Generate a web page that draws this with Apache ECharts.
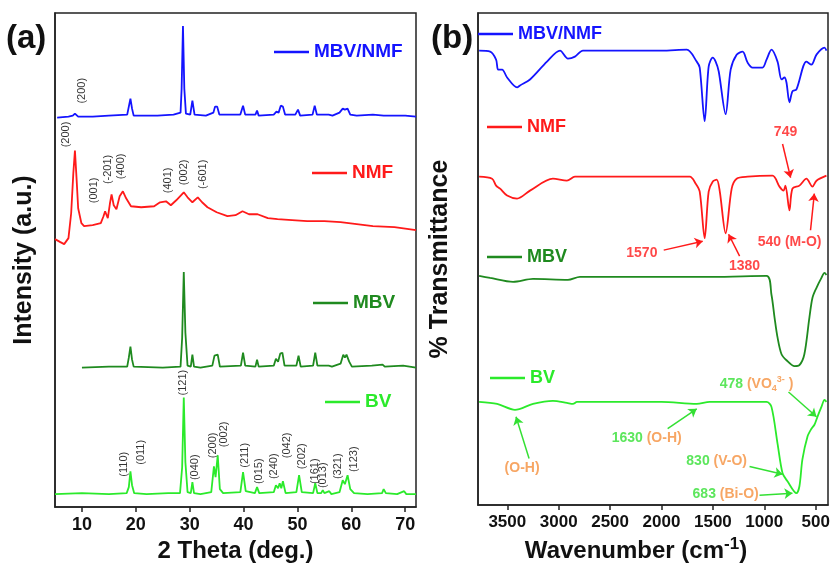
<!DOCTYPE html>
<html>
<head>
<meta charset="utf-8">
<title>XRD / FTIR</title>
<script src="https://cdn.jsdelivr.net/npm/echarts@6.0.0/dist/echarts.min.js"></script>
<style>
  html, body { margin: 0; padding: 0; background: #fff; }
  #main { width: 834px; height: 568px; }
</style>
</head>
<body>
<div id="main"></div>
<script>
// ---- (a) XRD patterns: [2theta, intensity (a.u., stacked offsets)] ----
const xrdComposite = [[5.4,391],[7.5,392],[8.3,393],[8.7,395],[9.3,392],[12,392],[15,393],[18.4,394],[18.7,402],[19.0,410],[19.3,400],[19.6,393],[24,393],[27,394],[28.3,396],[28.5,420],[28.75,483],[29.0,420],[29.3,395],[30.1,394],[30.5,408],[30.9,394],[33,393],[34.4,396],[34.7,402],[35.1,402],[35.5,394],[39.4,394],[39.9,403],[40.3,394],[42.2,394],[42.5,398],[42.8,393],[45.6,394],[46.1,397],[46.5,396],[46.9,403],[47.3,402],[47.7,394],[49.6,394],[50.1,399],[50.5,393],[52.8,394],[53.2,403],[53.6,394],[55.8,394],[56.1,395],[56.5,393],[57.8,396],[58.4,400],[58.8,399],[59.3,400],[59.8,394],[61,393],[64,394],[66,393],[70,393],[72,392]];
const xrdNmf = [[5,269],[6,266],[6.7,264],[7.5,270],[8.0,295],[8.4,335],[8.7,358],[9.0,330],[9.3,300],[9.6,298],[9.9,285],[10.4,282],[12,283],[13.5,285],[14.0,292],[14.3,297],[14.8,290],[15.2,305],[15.5,314],[15.9,303],[16.4,299],[17.0,312],[17.6,317],[18.2,310],[19.1,302],[21,301],[23.4,302],[24.5,306],[25.6,307],[26.5,303],[27.5,308],[28.9,316],[29.6,311],[30.5,306],[31.5,311],[32.3,306],[33.3,301],[35,296],[37,292],[38.5,293],[39.8,297],[41,294],[42.6,294],[44.5,290],[46.3,289],[49,288],[51.8,287],[55,287],[58,286],[61,284],[64,282],[68,281],[72,278]];
const xrdMbv = [[10,140],[15,141],[18.4,141],[18.7,150],[19.0,161],[19.3,148],[19.6,141],[25,140],[28.3,141],[28.6,170],[28.9,236],[29.2,175],[29.6,142],[30.2,141],[30.5,153],[30.8,141],[32,140],[34.2,142],[34.6,152],[34.9,150],[35.2,153],[35.6,141],[39.5,142],[39.9,155],[40.3,142],[42.2,141],[42.5,148],[42.8,141],[45.6,142],[46.0,149],[46.4,146],[46.8,154],[47.2,155],[47.6,142],[49.8,142],[50.2,152],[50.6,141],[52.9,142],[53.3,155],[53.7,142],[55.8,142],[56.1,144],[56.4,141],[58.0,144],[58.5,153],[58.8,150],[59.1,153],[59.6,146],[60.1,141],[63.8,142],[65.8,143],[66.2,141],[69.6,142],[72,140]];
const xrdBv = [[5,13],[10,14],[15,13],[18.3,14],[18.7,20],[19.0,36],[19.3,22],[19.7,14],[22,13],[26,14],[28.2,14],[28.6,40],[28.9,110],[29.2,45],[29.6,15],[30.2,14],[30.5,25],[30.8,14],[32,13],[34.0,15],[34.5,41],[34.8,30],[35.2,52],[35.6,18],[36.2,14],[39.4,15],[39.9,35],[40.4,16],[42.1,14],[42.5,20],[42.9,14],[45.6,15],[46.0,22],[46.4,19],[46.7,24],[47.0,19],[47.3,26],[47.8,14],[49.8,15],[50.3,32],[50.8,15],[52.9,14],[53.3,24],[53.7,14],[54.4,14],[54.7,17],[55.0,14],[55.9,16],[56.3,13],[57.8,15],[58.4,27],[58.8,23],[59.3,32],[59.8,18],[60.5,14],[63,13],[65.7,14],[66.0,18],[66.4,14],[68.5,13],[69.8,16],[70.2,13],[72,13]];

// hkl labels: [2theta, height, text]
const hklLabels = [
  [10.0,418,'(200)'],
  [7.1,374,'(200)'],[12.3,318,'(001)'],[14.9,339,'(-201)'],[17.3,342,'(400)'],
  [25.9,328,'(401)'],[28.9,336,'(002)'],[32.4,334,'(-601)'],
  [17.8,43,'(110)'],[21.0,55,'(011)'],[28.7,125,'(121)'],[31.0,40,'(040)'],
  [34.3,62,'(200)'],[36.3,73,'(002)'],[40.2,52,'(211)'],[42.8,36,'(015)'],
  [45.6,41,'(240)'],[48.1,62,'(042)'],[50.9,51,'(202)'],[53.3,36,'(161)'],
  [54.8,32,'(013)'],[57.6,41,'(321)'],[60.4,48,'(123)']
];
const thetaTicks = [10, 20, 30, 40, 50, 60, 70];

// ---- (b) FTIR spectra: [wavenumber, transmittance (offset)] ----
const ftirComposite = [[3774,458],[3667,457],[3609,449],[3589,439],[3550,439],[3502,431],[3405,421],[3376,423],[3279,429],[3114,447],[2987,458],[2910,450],[2842,452],[2764,458],[2400,458],[2000,458],[1754,459],[1657,447],[1628,441],[1580,387],[1541,442],[1502,451],[1473,447],[1443,437],[1376,394],[1327,439],[1269,454],[1211,457],[1162,446],[1114,441],[1017,441],[978,449],[930,459],[871,447],[832,429],[803,431],[784,426],[755,406],[726,417],[687,419],[590,447],[541,444],[492,454],[414,461],[395,458]];
const ftirNmf = [[3774,331],[3648,329],[3609,322],[3570,319],[3502,312],[3405,309],[3279,317],[3056,329],[2920,327],[2842,331],[2400,331],[1725,331],[1667,324],[1628,316],[1580,269],[1541,316],[1502,326],[1463,328],[1434,317],[1376,274],[1317,319],[1269,329],[1162,331],[920,332],[852,321],[813,317],[794,322],[755,297],[726,319],[658,322],[590,329],[531,321],[492,327],[395,332]];
const ftirMbv = [[3774,231],[3667,229],[3444,225],[3250,228],[2910,227],[2793,230],[2000,230],[1500,230],[978,231],[930,212],[900,189],[871,169],[832,152],[784,146],[706,140],[658,141],[610,152],[561,189],[531,209],[492,219],[444,229],[414,234],[395,232]];
const ftirBv = [[3774,104],[3599,102],[3425,96],[3250,102],[3056,105],[2920,103],[2861,102],[2822,104],[2000,104],[1657,102],[1531,104],[978,104],[930,99],[871,62],[822,32],[774,24],[687,12],[658,19],[629,46],[580,69],[541,77],[512,81],[483,89],[444,99],[414,106],[395,104]];

// band notes: [wavenumber, height, rich text]
const ftirNotes = [
  [793,376,'{r|749}'],
  [2191,254,'{r|1570}'],
  [1192,241,'{r|1380}'],
  [754,265,'{r|540 (M-O)}'],
  [1075,122,'{g|478 }{o|(VO}{ob|4}{ot|3-}{o| )}'],
  [2144,67,'{g|1630 }{o|(O-H)}'],
  [3356,37,'{o|(O-H)}'],
  [1463,44,'{g|830 }{o|(V-O)}'],
  [1376,11,'{g|683 }{o|(Bi-O)}']
];
// arrows: [x1, y1, x2, y2, colour key]
const ftirArrows = [
  [822,364,744,330,'r'],[1978,257,1599,266,'r'],[1240,251,1347,273,'r'],[550,277,513,314,'r'],
  [764,114,492,89,'g'],[1940,77,1657,97,'g'],[3288,47,3415,89,'g'],[1143,39,822,31,'g'],[1046,10,726,12,'g']
];
const wavenumberTicks = [3500, 3000, 2500, 2000, 1500, 1000, 500];

const FONT = 'Liberation Sans, Arial, sans-serif';
const C = {
  composite: '#1414ff',
  nmf: '#ff1a1a',
  mbv: '#1f8a1f',
  bv: '#2bea2b',
  orange: '#f5903d',
  noteGreen: '#33e033'
};

const chart = echarts.init(document.getElementById('main'));

function lineSeries(name, data, color, axis, smooth) {
  return {
    name: name,
    type: 'line',
    xAxisIndex: axis,
    yAxisIndex: axis,
    data: data,
    symbol: 'none',
    smooth: smooth,
    silent: true,
    itemStyle: { color: color },
    lineStyle: { color: color, width: 1.8 }
  };
}

function legendAt(left, top, name, color, size) {
  return {
    left: left,
    top: top,
    padding: 0,
    icon: 'rect',
    itemWidth: 35,
    itemHeight: 2.5,
    selectedMode: false,
    data: [{ name: name, textStyle: { color: color } }],
    textStyle: { fontFamily: FONT, fontSize: size, fontWeight: 'bold', lineHeight: 20 }
  };
}

function axisX(idx, opts) {
  return Object.assign({
    type: 'value',
    gridIndex: idx,
    nameLocation: 'middle',
    axisLine: { show: true, onZero: false, lineStyle: { color: '#222', width: 1.5 } },
    splitLine: { show: false }
  }, opts);
}

function axisY(idx, name, gap) {
  return {
    type: 'value',
    gridIndex: idx,
    min: 0,
    max: 496,
    name: name,
    nameLocation: 'middle',
    nameRotate: 90,
    nameGap: gap,
    nameTextStyle: { fontFamily: FONT, fontSize: 25, fontWeight: 'bold', color: '#111' },
    axisLine: { show: true, lineStyle: { color: '#222', width: 1.5 } },
    axisTick: { show: false },
    axisLabel: { show: false },
    splitLine: { show: false }
  };
}

const noteText = { fontFamily: FONT, fontSize: 14, fontWeight: 'bold', lineHeight: 18 };

const option = {
  animation: false,
  backgroundColor: '#fff',
  grid: [
    { left: 55, top: 13, width: 361, height: 496, show: true, borderColor: '#222', borderWidth: 1.5 },
    { left: 478, top: 13, width: 350, height: 496, show: true, borderColor: '#222', borderWidth: 1.5 }
  ],
  xAxis: [
    axisX(0, {
      min: 5, max: 72,
      name: '2 Theta (deg.)',
      nameGap: 27,
      nameTextStyle: { fontFamily: FONT, fontSize: 24, fontWeight: 'bold', color: '#111' },
      axisTick: { show: true, length: 5, customValues: thetaTicks, lineStyle: { color: '#222', width: 1.5 } },
      axisLabel: { color: '#111', fontFamily: FONT, fontWeight: 'bold', fontSize: 18, margin: 9, customValues: thetaTicks, formatter: v => String(v) }
    }),
    axisX(1, {
      min: 380, max: 3785, inverse: true,
      name: '{t|Wavenumber (cm}{s|-1}{t|)}',
      nameGap: 27,
      nameTextStyle: {
        padding: [0, 34, 0, 0],
        rich: {
          t: { fontFamily: FONT, fontSize: 24, fontWeight: 'bold', color: '#111', lineHeight: 30 },
          s: { fontFamily: FONT, fontSize: 17, fontWeight: 'bold', color: '#111', verticalAlign: 'top', lineHeight: 14 }
        }
      },
      axisTick: { show: true, length: 5, customValues: wavenumberTicks, lineStyle: { color: '#222', width: 1.5 } },
      axisLabel: { color: '#111', fontFamily: FONT, fontWeight: 'bold', fontSize: 17, margin: 9, customValues: wavenumberTicks, formatter: v => String(v) }
    })
  ],
  yAxis: [
    axisY(0, 'Intensity (a.u.)', 18),
    axisY(1, '% Transmittance', 25)
  ],
  legend: [
    legendAt(274, 42, 'MBV/NMF', C.composite, 19),
    legendAt(312, 163, 'NMF', C.nmf, 19),
    legendAt(313, 293, 'MBV', C.mbv, 19),
    legendAt(325, 392, 'BV', C.bv, 19),
    legendAt(478, 24, 'MBV/NMF', C.composite, 18),
    legendAt(487, 117, 'NMF', C.nmf, 18),
    legendAt(487, 247, 'MBV', C.mbv, 18),
    legendAt(490, 368, 'BV', C.bv, 18)
  ],
  graphic: [
    { type: 'text', left: 6, top: 22, style: { text: '(a)', fontFamily: FONT, fontSize: 33, fontWeight: 'bold', fill: '#111' } },
    { type: 'text', left: 431, top: 22, style: { text: '(b)', fontFamily: FONT, fontSize: 33, fontWeight: 'bold', fill: '#111' } }
  ],
  series: [
    lineSeries('MBV/NMF', xrdComposite, C.composite, 0, false),
    lineSeries('NMF', xrdNmf, C.nmf, 0, false),
    lineSeries('MBV', xrdMbv, C.mbv, 0, false),
    lineSeries('BV', xrdBv, C.bv, 0, false),
    lineSeries('MBV/NMF', ftirComposite, C.composite, 1, 0.3),
    lineSeries('NMF', ftirNmf, C.nmf, 1, 0.3),
    lineSeries('MBV', ftirMbv, C.mbv, 1, 0.3),
    lineSeries('BV', ftirBv, C.bv, 1, 0.3),
    {
      name: 'hkl',
      type: 'scatter',
      xAxisIndex: 0,
      yAxisIndex: 0,
      silent: true,
      symbolSize: 1,
      itemStyle: { color: 'rgba(0,0,0,0)' },
      data: hklLabels.map(d => ({ value: [d[0], d[1]], name: d[2] })),
      label: {
        show: true,
        position: 'inside',
        rotate: 90,
        formatter: '{b}',
        fontFamily: FONT,
        fontSize: 11,
        color: '#000'
      }
    },
    {
      name: 'notes',
      type: 'scatter',
      xAxisIndex: 1,
      yAxisIndex: 1,
      silent: true,
      symbolSize: 1,
      itemStyle: { color: 'rgba(0,0,0,0)' },
      data: ftirNotes.map(d => ({ value: [d[0], d[1]], name: d[2] })),
      label: {
        show: true,
        position: 'inside',
        formatter: '{b}',
        rich: {
          r: Object.assign({ color: C.nmf }, noteText),
          g: Object.assign({ color: C.noteGreen }, noteText),
          o: Object.assign({ color: C.orange }, noteText),
          ob: { color: C.orange, fontFamily: FONT, fontSize: 9, fontWeight: 'bold', verticalAlign: 'bottom', lineHeight: 9 },
          ot: { color: C.orange, fontFamily: FONT, fontSize: 9, fontWeight: 'bold', verticalAlign: 'top', lineHeight: 9 }
        }
      },
      markLine: {
        silent: true,
        symbol: ['none', 'arrow'],
        symbolSize: 8,
        label: { show: false },
        lineStyle: { type: 'solid', width: 1.5 },
        data: ftirArrows.map(a => [
          { coord: [a[0], a[1]], lineStyle: { color: a[4] === 'r' ? C.nmf : C.noteGreen, type: 'solid', width: 1.5 } },
          { coord: [a[2], a[3]] }
        ])
      }
    }
  ]
};

chart.setOption(option);
window.onresize = () => {
  chart.resize();
};
</script>
</body>
</html>
